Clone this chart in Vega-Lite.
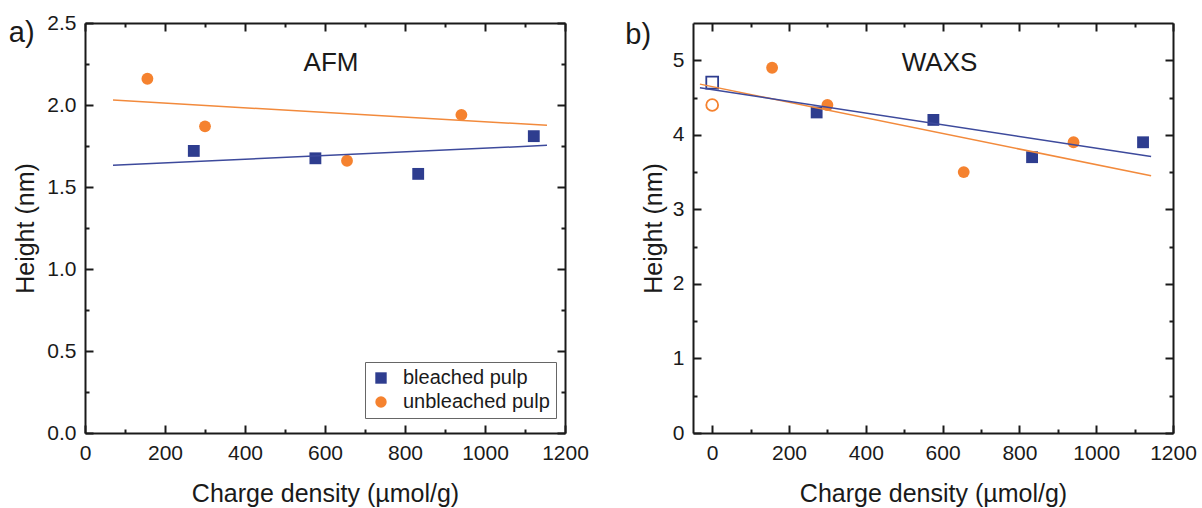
{
  "$schema": "https://vega.github.io/schema/vega-lite/v6.json",
  "padding": {"left": 8, "top": 12, "right": 5, "bottom": 5},
  "background": "white",
  "config": {
    "view": {"stroke": null},
    "font": "Liberation Sans",
    "axis": {
      "grid": false,
      "domainColor": "#1a1a1a",
      "domainWidth": 2,
      "tickColor": "#1a1a1a",
      "tickWidth": 2,
      "labelFont": "Liberation Sans",
      "labelFontSize": 21,
      "labelColor": "#1a1a1a",
      "labelFlush": false,
      "titleFont": "Liberation Sans",
      "titleFontSize": 25,
      "titleFontWeight": "normal",
      "titleColor": "#1a1a1a"
    },
    "legend": {
      "labelFont": "Liberation Sans",
      "labelFontSize": 20,
      "labelColor": "#1a1a1a"
    },
    "title": {
      "font": "Liberation Sans",
      "fontSize": 29,
      "fontWeight": "normal",
      "color": "#1a1a1a",
      "anchor": "start",
      "frame": "bounds",
      "baseline": "alphabetic"
    }
  },
  "datasets": {
    "afm": [
      {"series": "bleached pulp", "charge": 272, "height": 1.72},
      {"series": "bleached pulp", "charge": 576, "height": 1.675},
      {"series": "bleached pulp", "charge": 833, "height": 1.58},
      {"series": "bleached pulp", "charge": 1122, "height": 1.81},
      {"series": "unbleached pulp", "charge": 156, "height": 2.16},
      {"series": "unbleached pulp", "charge": 300, "height": 1.87},
      {"series": "unbleached pulp", "charge": 655, "height": 1.66},
      {"series": "unbleached pulp", "charge": 941, "height": 1.94}
    ],
    "afm_fit": [
      {"series": "bleached pulp", "charge": 70, "height": 1.632},
      {"series": "bleached pulp", "charge": 1155, "height": 1.754},
      {"series": "unbleached pulp", "charge": 70, "height": 2.03},
      {"series": "unbleached pulp", "charge": 1155, "height": 1.876}
    ],
    "waxs": [
      {"series": "bleached pulp", "charge": 272, "height": 4.3},
      {"series": "bleached pulp", "charge": 576, "height": 4.2},
      {"series": "bleached pulp", "charge": 833, "height": 3.7},
      {"series": "bleached pulp", "charge": 1122, "height": 3.9},
      {"series": "unbleached pulp", "charge": 156, "height": 4.9},
      {"series": "unbleached pulp", "charge": 300, "height": 4.4},
      {"series": "unbleached pulp", "charge": 655, "height": 3.5},
      {"series": "unbleached pulp", "charge": 941, "height": 3.9}
    ],
    "waxs_open": [
      {"series": "bleached pulp", "charge": 0, "height": 4.7},
      {"series": "unbleached pulp", "charge": 0, "height": 4.4}
    ],
    "waxs_fit": [
      {"series": "bleached pulp", "charge": -32, "height": 4.63},
      {"series": "bleached pulp", "charge": 1143, "height": 3.71},
      {"series": "unbleached pulp", "charge": -32, "height": 4.68},
      {"series": "unbleached pulp", "charge": 1143, "height": 3.45}
    ],
    "afm_label": [{"label": "AFM"}],
    "waxs_label": [{"label": "WAXS"}]
  },
  "bounds": "flush",
  "spacing": 128,
  "resolve": {"scale": {"color": "independent", "shape": "independent"}},
  "hconcat": [
    {
      "width": 480,
      "height": 410,
      "title": {"text": "a)", "dx": -5, "offset": -36},
      "resolve": {"axis": {"x": "independent", "y": "independent"}},
      "layer": [
        {
          "data": {"name": "afm"},
          "mark": {"type": "point", "filled": true, "size": 140, "opacity": 1},
          "encoding": {
            "x": {"field": "charge", "type": "quantitative",
              "scale": {"domain": [0, 1200], "nice": false, "zero": false},
              "axis": {"orient": "bottom", "values": [0, 200, 400, 600, 800, 1000, 1200], "format": "d", "tickSize": -8, "labelPadding": 17, "title": "Charge density (µmol/g)", "titlePadding": 18}},
            "y": {"field": "height", "type": "quantitative",
              "scale": {"domain": [0, 2.5], "nice": false, "zero": false},
              "axis": {"orient": "left", "values": [0, 0.5, 1, 1.5, 2, 2.5], "format": ".1f", "tickSize": -8, "labelPadding": 17, "title": "Height (nm)", "titlePadding": 8}},
            "color": {"field": "series", "type": "nominal",
              "scale": {"domain": ["bleached pulp", "unbleached pulp"], "range": ["#2e3d8f", "#f5822f"]},
              "legend": {"title": null, "orient": "none", "legendX": 280, "legendY": 339, "strokeColor": "#666666", "fillColor": "white", "padding": 6, "rowPadding": 4, "labelOffset": 12, "symbolSize": 130}},
            "shape": {"field": "series", "type": "nominal",
              "scale": {"domain": ["bleached pulp", "unbleached pulp"], "range": ["square", "circle"]},
              "legend": {"title": null, "orient": "none", "legendX": 280, "legendY": 339, "strokeColor": "#666666", "fillColor": "white", "padding": 6, "rowPadding": 4, "labelOffset": 12, "symbolSize": 130}}
          }
        },
        {
          "data": {"name": "afm_fit"},
          "transform": [{"filter": "datum.series === 'unbleached pulp'"}],
          "mark": {"type": "line", "color": "#f28a3c", "strokeWidth": 1.5},
          "encoding": {
            "x": {"field": "charge", "type": "quantitative",
              "axis": {"orient": "top", "values": [0, 200, 400, 600, 800, 1000, 1200], "tickSize": -8, "labels": false, "title": null}},
            "y": {"field": "height", "type": "quantitative",
              "axis": {"orient": "right", "values": [0, 0.5, 1, 1.5, 2, 2.5], "tickSize": -8, "labels": false, "title": null}}
          }
        },
        {
          "data": {"name": "afm_fit"},
          "transform": [{"filter": "datum.series === 'bleached pulp'"}],
          "mark": {"type": "line", "color": "#3d4a9c", "strokeWidth": 1.5},
          "encoding": {
            "x": {"field": "charge", "type": "quantitative",
              "axis": {"orient": "top", "values": [100, 300, 500, 700, 900, 1100], "tickSize": -4, "labels": false, "domain": false, "title": null}},
            "y": {"field": "height", "type": "quantitative",
              "axis": {"orient": "right", "values": [0.25, 0.75, 1.25, 1.75, 2.25], "tickSize": -4, "labels": false, "domain": false, "title": null}}
          }
        },
        {
          "data": {"name": "afm_label"},
          "mark": {"type": "text", "fontSize": 26, "baseline": "alphabetic", "align": "center", "color": "#1a1a1a"},
          "encoding": {
            "text": {"field": "label"},
            "x": {"datum": 615, "type": "quantitative",
              "axis": {"orient": "bottom", "values": [100, 300, 500, 700, 900, 1100], "tickSize": -4, "labels": false, "domain": false, "title": null}},
            "y": {"datum": 2.21, "type": "quantitative",
              "axis": {"orient": "left", "values": [0.25, 0.75, 1.25, 1.75, 2.25], "tickSize": -4, "labels": false, "domain": false, "title": null}}
          }
        }
      ]
    },
    {
      "width": 480,
      "height": 410,
      "title": {"text": "b)", "dx": -16, "offset": -28},
      "resolve": {"axis": {"x": "independent", "y": "independent"}},
      "layer": [
        {
          "data": {"name": "waxs"},
          "mark": {"type": "point", "filled": true, "size": 140, "opacity": 1},
          "encoding": {
            "x": {"field": "charge", "type": "quantitative",
              "scale": {"domain": [-50, 1200], "nice": false, "zero": false},
              "axis": {"orient": "bottom", "values": [0, 200, 400, 600, 800, 1000, 1200], "format": "d", "tickSize": -8, "labelPadding": 17, "title": "Charge density (µmol/g)", "titlePadding": 18}},
            "y": {"field": "height", "type": "quantitative",
              "scale": {"domain": [0, 5.5], "nice": false, "zero": false},
              "axis": {"orient": "left", "values": [0, 1, 2, 3, 4, 5], "format": "d", "tickSize": -8, "labelPadding": 17, "title": "Height (nm)", "titlePadding": 6}},
            "color": {"field": "series", "type": "nominal",
              "scale": {"domain": ["bleached pulp", "unbleached pulp"], "range": ["#2e3d8f", "#f5822f"]},
              "legend": null},
            "shape": {"field": "series", "type": "nominal",
              "scale": {"domain": ["bleached pulp", "unbleached pulp"], "range": ["square", "circle"]},
              "legend": null}
          }
        },
        {
          "data": {"name": "waxs_open"},
          "mark": {"type": "point", "filled": false, "size": 140, "strokeWidth": 1.8, "opacity": 1},
          "encoding": {
            "x": {"field": "charge", "type": "quantitative",
              "axis": {"orient": "bottom", "values": [100, 300, 500, 700, 900, 1100], "tickSize": -4, "labels": false, "domain": false, "title": null}},
            "y": {"field": "height", "type": "quantitative",
              "axis": {"orient": "left", "values": [0.5, 1.5, 2.5, 3.5, 4.5], "tickSize": -4, "labels": false, "domain": false, "title": null}},
            "color": {"field": "series", "type": "nominal", "legend": null},
            "shape": {"field": "series", "type": "nominal", "legend": null}
          }
        },
        {
          "data": {"name": "waxs_fit"},
          "transform": [{"filter": "datum.series === 'unbleached pulp'"}],
          "mark": {"type": "line", "color": "#f28a3c", "strokeWidth": 1.5},
          "encoding": {
            "x": {"field": "charge", "type": "quantitative",
              "axis": {"orient": "top", "values": [0, 200, 400, 600, 800, 1000, 1200], "tickSize": -8, "labels": false, "title": null}},
            "y": {"field": "height", "type": "quantitative",
              "axis": {"orient": "right", "values": [0, 1, 2, 3, 4, 5], "tickSize": -8, "labels": false, "title": null}}
          }
        },
        {
          "data": {"name": "waxs_fit"},
          "transform": [{"filter": "datum.series === 'bleached pulp'"}],
          "mark": {"type": "line", "color": "#3d4a9c", "strokeWidth": 1.5},
          "encoding": {
            "x": {"field": "charge", "type": "quantitative",
              "axis": {"orient": "top", "values": [100, 300, 500, 700, 900, 1100], "tickSize": -4, "labels": false, "domain": false, "title": null}},
            "y": {"field": "height", "type": "quantitative",
              "axis": {"orient": "right", "values": [0.5, 1.5, 2.5, 3.5, 4.5], "tickSize": -4, "labels": false, "domain": false, "title": null}}
          }
        },
        {
          "data": {"name": "waxs_label"},
          "mark": {"type": "text", "fontSize": 26, "baseline": "alphabetic", "align": "center", "color": "#1a1a1a"},
          "encoding": {
            "text": {"field": "label"},
            "x": {"datum": 592, "type": "quantitative", "axis": null},
            "y": {"datum": 4.86, "type": "quantitative", "axis": null}
          }
        }
      ]
    }
  ]
}
